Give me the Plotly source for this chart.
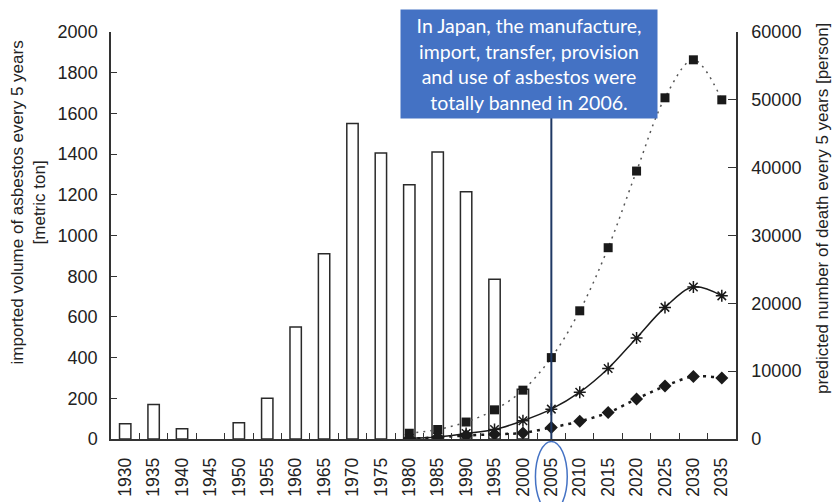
import plotly.graph_objects as go

# Five-year periods on the category axis
years = ["1930", "1935", "1940", "1945", "1950", "1955", "1960", "1965", "1970",
         "1975", "1980", "1985", "1990", "1995", "2000", "2005", "2010", "2015",
         "2020", "2025", "2030", "2035"]

# Imported asbestos per 5 years [metric ton] (no imports recorded for 1945)
import_years = ["1930", "1935", "1940", "1945", "1950", "1955", "1960", "1965",
                "1970", "1975", "1980", "1985", "1990", "1995", "2000"]
imported = [75, 170, 50, None, 80, 200, 550, 910, 1550, 1405, 1250, 1410, 1215, 785, 245]

# Predicted deaths per 5 years [person]
pred_years = ["1980", "1985", "1990", "1995", "2000", "2005", "2010", "2015",
              "2020", "2025", "2030", "2035"]
deaths_high = [850, 1400, 2500, 4300, 7200, 12000, 18900, 28200, 39500, 50300, 55900, 50000]
deaths_mid = [100, 300, 800, 1400, 2700, 4400, 6900, 10400, 14900, 19400, 22400, 21100]
deaths_low = [50, 250, 500, 700, 900, 1700, 2600, 3900, 5900, 7800, 9200, 9000]

ban_year = "2005"
note = ("In Japan, the manufacture,<br>import, transfer, provision<br>"
        "and use of asbestos were<br>totally banned in 2006.")
left_title = "imported volume of asbestos every 5 years<br>[metric ton]"
right_title = "predicted number of death every 5 years [person]"

FONT = "Arial, Liberation Sans, Helvetica, sans-serif"
AX = "#333333"
TXT = "#222222"
BLUE = "#4472C4"
NAVY = "#1F3864"

fig = go.Figure()

fig.add_trace(go.Bar(
    x=import_years, y=imported, width=0.4,
    marker=dict(color="white", line=dict(color="#2a2a2a", width=1.5)),
    showlegend=False, yaxis="y",
))

fig.add_trace(go.Scatter(
    x=pred_years, y=deaths_high, yaxis="y2", mode="lines+markers",
    line=dict(color="#555555", width=1.5, dash="2px,5px", shape="spline", smoothing=1),
    marker=dict(symbol="square", size=9, color="#1a1a1a"),
    showlegend=False,
))
fig.add_trace(go.Scatter(
    x=pred_years, y=deaths_mid, yaxis="y2", mode="lines+markers",
    line=dict(color="#1a1a1a", width=1.5, shape="spline", smoothing=1),
    marker=dict(symbol="asterisk-open", size=10, color="#1a1a1a",
                line=dict(color="#1a1a1a", width=1.5)),
    showlegend=False,
))
fig.add_trace(go.Scatter(
    x=pred_years, y=deaths_low, yaxis="y2", mode="lines+markers",
    line=dict(color="#1a1a1a", width=2.5, dash="3px,5px", shape="spline", smoothing=1),
    marker=dict(symbol="diamond", size=10, color="#1a1a1a"),
    showlegend=False,
))

ban_idx = years.index(ban_year)

# vertical marker line from the note box down to the axis
fig.add_shape(type="line", xref="x", yref="paper",
              x0=ban_idx, x1=ban_idx, y0=0, y1=0.789,
              line=dict(color=NAVY, width=2), layer="above")
# ellipse highlighting the tick label
fig.add_shape(type="circle", xref="x", yref="paper",
              x0=ban_idx - 0.56, x1=ban_idx + 0.56, y0=-0.18, y1=-0.006,
              line=dict(color=BLUE, width=1.5))

fig.add_annotation(
    xref="paper", yref="paper", x=0.6688, y=0.9214,
    xanchor="center", yanchor="middle",
    text=note, showarrow=False, align="center",
    font=dict(family="Lato", size=19.5, color="white"),
    bgcolor=BLUE, borderpad=0, width=256, height=108,
)

# axis titles
fig.add_annotation(
    xref="paper", yref="paper", x=-0.132, y=0.58,
    xanchor="center", yanchor="middle", textangle=-90,
    text=left_title, showarrow=False, align="center",
    font=dict(family=FONT, size=17, color=TXT),
)
fig.add_annotation(
    xref="paper", yref="paper", x=1.1376, y=0.565,
    xanchor="center", yanchor="middle", textangle=-90,
    text=right_title, showarrow=False, align="center",
    font=dict(family=FONT, size=17, color=TXT),
)

fig.update_layout(
    width=832, height=502,
    margin=dict(l=111, r=96, t=32, b=63, autoexpand=False),
    paper_bgcolor="white", plot_bgcolor="white",
    font=dict(family=FONT, color=TXT),
    xaxis=dict(
        type="category", categoryorder="array", categoryarray=years,
        range=[-0.5, len(years) - 0.5], automargin=False,
        tickmode="array", tickvals=years, ticktext=years,
        tickangle=-90, tickfont=dict(family=FONT, size=17.5, color=TXT),
        ticklabelstandoff=10,
        ticks="inside", tickson="boundaries", ticklen=6, tickcolor=AX,
        showline=True, linecolor=AX, linewidth=1.5,
        showgrid=False, zeroline=False,
    ),
    yaxis=dict(
        range=[0, 2000], tickvals=list(range(0, 2001, 200)), automargin=False,
        ticks="inside", ticklen=6, tickcolor=AX,
        tickfont=dict(family=FONT, size=18, color=TXT), ticklabelstandoff=8,
        showline=True, linecolor=AX, linewidth=1.5,
        showgrid=False, zeroline=False,
    ),
    yaxis2=dict(
        range=[0, 60000], tickvals=list(range(0, 60001, 10000)), tickformat="d",
        overlaying="y", side="right", automargin=False,
        ticks="inside", ticklen=8, tickcolor=AX,
        tickfont=dict(family=FONT, size=18, color=TXT), ticklabelstandoff=10,
        showline=True, linecolor=AX, linewidth=1.5,
        showgrid=False, zeroline=False,
    ),
)

fig.write_html("out.html")
